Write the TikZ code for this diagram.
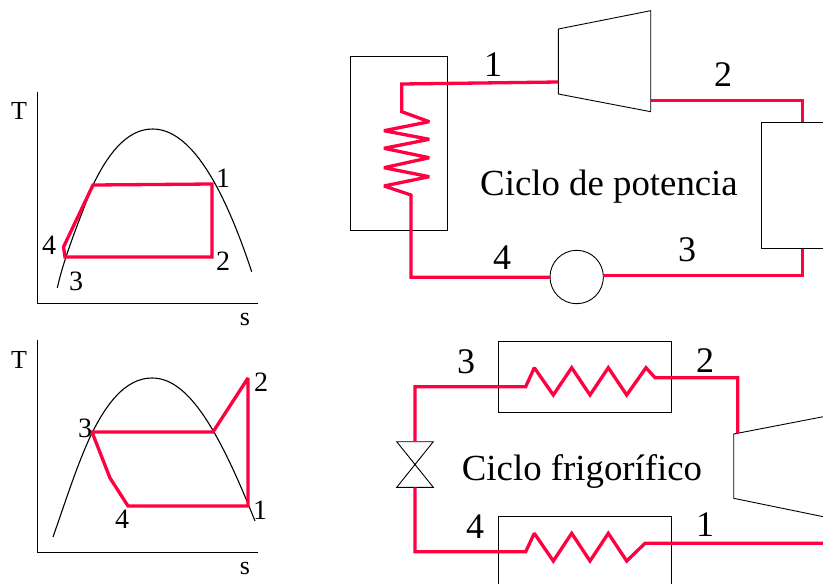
\documentclass[tikz,border=0pt]{standalone}
\usepackage{fontspec}
\setmainfont{Liberation Serif}
\definecolor{cyc}{RGB}{255,0,64}
\tikzset{
  cycle line/.style={draw=cyc,line width=3.3pt,line join=miter,miter limit=2},
  thin line/.style={draw=black,line width=0.9pt},
  curve line/.style={draw=black,line width=1.1pt},
  unit box/.style={draw=black,line width=0.9pt,rectangle,inner sep=0pt,outer sep=0pt,anchor=north west},
  big label/.style={inner sep=0pt,font=\fontsize{36}{36}\selectfont},
  small label/.style={inner sep=0pt,font=\fontsize{28}{28}\selectfont},
  axis label/.style={inner sep=0pt,font=\fontsize{26}{26}\selectfont},
  title label/.style={inner sep=0pt,anchor=base,font=\fontsize{36.8}{36.8}\selectfont},
}
\begin{document}
\begin{tikzpicture}[x=1pt,y=-1pt]
\useasboundingbox (0,0) rectangle (823,584);
\clip (0,0) rectangle (823,584);
% --- T-s diagram, power cycle
\draw[thin line] (37,92) -- (37,303.5) -- (258,303.5);
\draw[curve line] (57.3,288) .. controls (63,262) and (75,230) .. (93,185) .. controls (106,158) and (125,129) .. (152.5,129) .. controls (185,129) and (218,170) .. (251.7,271.7);
\draw[cycle line] (93,185) -- (212,184) -- (212,257) -- (65,257) -- (63.5,247) -- cycle;
\node[axis label] (ta) at (19,111) {T};
\node[axis label] (sa) at (245,319) {s};
\node[small label] (a1) at (223,178) {1};
\node[small label] (a2) at (223,261) {2};
\node[small label] (a3) at (76,281) {3};
\node[small label] (a4) at (49,245) {4};
% --- T-s diagram, refrigeration cycle
\draw[thin line] (37,340) -- (37,552) -- (258,552);
\draw[curve line] (53,537) .. controls (66,500) and (78,462) .. (92,433) .. controls (106,405) and (125,378) .. (152,378) .. controls (185,378) and (215,420) .. (255,521);
\draw[cycle line] (92,432) -- (213,432) -- (248,378) -- (248,506) -- (128,506) -- (110,478) -- cycle;
\node[axis label] (tb) at (19,360) {T};
\node[axis label] (sb) at (245,568) {s};
\node[small label] (b1) at (260,510) {1};
\node[small label] (b2) at (261,382) {2};
\node[small label] (b3) at (85,428) {3};
\node[small label] (b4) at (122,519) {4};
% --- power cycle plant
\node[unit box,minimum width=96.6pt,minimum height=174pt] (boiler) at (350.7,56) {};
\node[unit box,minimum width=100pt,minimum height=126.7pt] (condenser) at (761.7,122) {};
\node[draw=black,line width=0.9pt,circle,minimum size=53.4pt,inner sep=0pt,outer sep=0pt] (pump) at (576.7,277) {};
\draw[thin line] (558.3,29) coordinate (tA) -- (650.7,10.7) -- (650.7,111.7) -- (558.3,94) -- cycle;
\coordinate (tIn) at (558.3,82);
\coordinate (tOut) at (650.7,100.3);
\draw[cycle line] (tIn) -- (401.7,84) -- (401.7,111.7) -- (429.3,121.7) -- (384,130.7) -- (429.3,139.3) -- (384,148.3) -- (429.3,157.7) -- (384,167.7) -- (429.3,176.7) -- (384,186) -- (411,195) -- (411,277.3) -- (pump.west |- 0,277.3);
\draw[cycle line] (tOut) -- (802.3,100.3) -- (802.3,122);
\draw[cycle line] (802.3,248.7) -- (802.3,275.7) -- (603.3,275.7);
\node[big label] (p1) at (493,65) {1};
\node[big label] (p2) at (723,75) {2};
\node[big label] (p3) at (687,250) {3};
\node[big label] (p4) at (502,258) {4};
\node[title label] (ptitle) at (609,195) {Ciclo de potencia};
% --- refrigeration cycle plant
\node[unit box,minimum width=173pt,minimum height=71.3pt] (cond) at (498.7,341) {};
\node[unit box,minimum width=173pt,minimum height=90pt] (evap) at (498.7,516.3) {};
\draw[thin line] (396.7,441.7) coordinate (vA) -- (433.3,441.7) -- (396.7,487.3) -- (433.3,487.3) -- cycle;
\draw[thin line] (823.3,416.7) -- (733.7,434) -- (733.7,498.3) -- (823.3,516.7);
\coordinate (vTop) at (415,441.7);
\coordinate (vBot) at (415,487.3);
\coordinate (cIn) at (737.7,433.3);
\draw[cycle line] (vTop) -- (415,386.7) -- (525.7,386.7) -- (534.3,367.7) -- (553.3,395) -- (571.7,367.7) -- (590,395) -- (608.3,367.7) -- (626.7,395) -- (646,367.7) -- (655,377.7) -- (737.7,377.7) -- (cIn);
\draw[cycle line] (vBot) -- (415,551.7) -- (525.7,551.7) -- (534.3,533.3) -- (553.3,561) -- (571.7,533.3) -- (590,561) -- (608.3,533.3) -- (626.7,561) -- (645,543.3) -- (826,543.3);
\node[big label] (r1) at (705,525) {1};
\node[big label] (r2) at (705,361) {2};
\node[big label] (r3) at (466,362) {3};
\node[big label] (r4) at (475,527) {4};
\node[title label] (rtitle) at (582,480.7) {Ciclo frigorífico};
\end{tikzpicture}
\end{document}
